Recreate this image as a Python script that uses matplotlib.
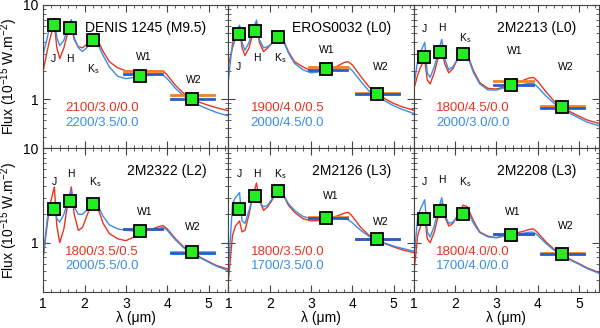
import matplotlib
matplotlib.use('Agg')
import matplotlib.pyplot as plt
from matplotlib.ticker import MultipleLocator, LogLocator, FixedLocator, NullFormatter

plt.rcParams['font.family'] = ['Liberation Sans', 'DejaVu Sans']
plt.rcParams['mathtext.fontset'] = 'custom'
plt.rcParams['mathtext.rm'] = 'Liberation Sans'
plt.rcParams['mathtext.it'] = 'Liberation Sans'

# wavelength grid of the model spectra (micron)
wave = [1.0, 1.1, 1.17, 1.27, 1.33, 1.4, 1.5, 1.58, 1.68, 1.75, 1.85, 1.95, 2.05, 2.2, 2.3, 2.45,
        2.6, 2.8, 3.0, 3.2, 3.4, 3.6, 3.8, 3.9, 4.0, 4.2, 4.4, 4.6, 4.8, 5.0, 5.2, 5.5]

names = ['DENIS 1245 (M9.5)', 'EROS0032 (L0)', '2M2213 (L0)',
         '2M2322 (L2)', '2M2126 (L3)', '2M2208 (L3)']
red_models = ['2100/3.0/0.0', '1900/4.0/0.5', '1800/4.5/0.0',
              '1800/3.5/0.5', '1800/3.5/0.0', '1800/4.0/0.0']
blue_models = ['2200/3.5/0.0', '2000/4.5/0.0', '2000/3.0/0.0',
               '2000/5.5/0.0', '1700/3.5/0.0', '1700/4.0/0.0']

red_flux = [
    [2.0, 3.3, 4.5, 6.3, 3.5, 2.7, 3.5, 4.8, 6.0, 4.3, 3.6, 3.5, 3.8, 4.6, 4.4, 3.2,
     2.5, 2.15, 2.0, 2.0, 2.0, 2.0, 2.0, 2.0, 1.8, 1.4, 1.15, 1.0, 0.92, 0.86, 0.81, 0.75],
    [2.3, 3.5, 4.5, 5.9, 3.5, 2.9, 3.5, 4.8, 6.5, 4.0, 3.2, 3.5, 3.9, 5.0, 4.6, 3.2,
     2.5, 2.2, 2.0, 2.0, 2.1, 2.2, 2.45, 2.5, 2.3, 1.75, 1.35, 1.15, 1.0, 0.9, 0.83, 0.76],
    [1.25, 1.8, 2.2, 2.6, 1.6, 1.45, 1.9, 2.6, 3.6, 2.4, 1.9, 2.1, 2.6, 3.3, 3.0, 2.0,
     1.5, 1.3, 1.28, 1.35, 1.45, 1.55, 1.68, 1.7, 1.55, 1.2, 0.95, 0.83, 0.73, 0.66, 0.6, 0.55],
    [0.7, 1.6, 2.6, 3.9, 1.5, 1.0, 1.4, 2.4, 3.9, 2.0, 1.35, 1.45, 1.9, 2.8, 2.5, 1.6,
     1.25, 1.1, 1.05, 1.15, 1.3, 1.38, 1.48, 1.52, 1.4, 1.1, 0.9, 0.8, 0.7, 0.63, 0.57, 0.52],
    [0.4, 1.2, 1.5, 1.7, 1.3, 1.35, 2.0, 3.0, 4.3, 2.8, 2.2, 2.4, 2.8, 3.7, 3.4, 2.5,
     2.1, 1.8, 1.7, 1.72, 1.82, 1.9, 2.05, 2.1, 1.9, 1.45, 1.2, 1.07, 0.97, 0.9, 0.84, 0.78],
    [0.45, 1.2, 1.5, 1.9, 1.1, 1.0, 1.3, 1.8, 2.6, 1.9, 1.5, 1.6, 1.9, 2.5, 2.4, 1.7,
     1.3, 1.17, 1.13, 1.18, 1.25, 1.3, 1.38, 1.4, 1.28, 1.02, 0.85, 0.75, 0.66, 0.6, 0.54, 0.48],
]
blue_flux = [
    [3.0, 4.5, 6.5, 7.2, 4.5, 3.7, 4.2, 5.5, 7.0, 4.5, 3.5, 3.2, 3.5, 4.3, 4.0, 2.9,
     2.2, 1.75, 1.65, 1.7, 1.75, 1.8, 1.85, 1.8, 1.65, 1.3, 1.08, 0.95, 0.85, 0.78, 0.72, 0.66],
    [1.6, 4.0, 5.0, 6.1, 4.0, 3.3, 4.0, 5.3, 6.9, 4.3, 3.5, 3.6, 3.9, 4.9, 4.5, 3.1,
     2.4, 2.05, 1.9, 1.95, 2.05, 2.1, 2.2, 2.2, 2.0, 1.55, 1.22, 1.08, 0.95, 0.85, 0.78, 0.7],
    [1.3, 2.6, 3.2, 4.0, 1.9, 1.7, 2.2, 3.0, 4.3, 2.7, 2.05, 2.2, 2.6, 3.2, 2.9, 1.9,
     1.45, 1.25, 1.25, 1.32, 1.38, 1.42, 1.47, 1.47, 1.35, 1.08, 0.9, 0.8, 0.7, 0.63, 0.57, 0.52],
    [0.72, 1.8, 2.2, 2.6, 1.8, 1.65, 2.0, 2.6, 3.6, 2.4, 2.0, 2.0, 2.2, 2.8, 2.6, 1.9,
     1.55, 1.4, 1.35, 1.33, 1.35, 1.38, 1.42, 1.45, 1.35, 1.07, 0.88, 0.78, 0.69, 0.62, 0.56, 0.5],
    [0.5, 2.6, 3.0, 3.4, 1.7, 1.6, 2.2, 2.9, 3.6, 2.7, 2.4, 2.5, 2.9, 3.7, 3.4, 2.6,
     2.2, 1.9, 1.8, 1.8, 1.82, 1.8, 1.78, 1.75, 1.62, 1.35, 1.17, 1.06, 0.98, 0.92, 0.87, 0.81],
    [0.6, 1.9, 2.3, 2.85, 1.3, 1.15, 1.5, 2.1, 3.0, 2.0, 1.6, 1.65, 1.85, 2.3, 2.2, 1.6,
     1.28, 1.15, 1.13, 1.18, 1.22, 1.25, 1.29, 1.29, 1.2, 0.98, 0.83, 0.74, 0.65, 0.59, 0.53, 0.47],
]

# observed photometry J, H, Ks, W1, W2
band_wave = [1.25, 1.65, 2.2, 3.35, 4.6]
phot = [
    [6.1, 5.7, 4.25, 1.78, 1.0],
    [4.9, 5.3, 4.6, 2.07, 1.13],
    [2.8, 3.2, 3.0, 1.43, 0.83],
    [2.3, 2.8, 2.6, 1.34, 0.79],
    [2.28, 3.16, 3.5, 1.83, 1.09],
    [1.8, 2.19, 2.0, 1.22, 0.76],
]
# synthetic WISE photometry of the two models (W1, W2)
wise_lo = [2.95, 4.08]
wise_hi = [3.88, 5.12]
red_wise = [[1.99, 1.10], [2.17, 1.15], [1.54, 0.85], [1.40, 0.80], [1.85, 1.10], [1.24, 0.77]]
blue_wise = [[1.83, 1.0], [2.05, 1.13], [1.40, 0.80], [1.39, 0.77], [1.83, 1.09], [1.23, 0.76]]

band_names = ['J', 'H', r'K$_\mathregular{s}$', 'W1', 'W2']
# label positions (x, y) for the band names in each panel
band_lbl = [
    [(1.25, 2.7), (1.65, 2.7), (2.2, 2.1), (3.43, 2.8), (4.64, 1.6)],
    [(1.25, 2.2), (1.7, 2.75), (2.25, 2.7), (3.39, 3.3), (4.68, 2.2)],
    [(1.27, 5.5), (1.68, 5.65), (2.25, 4.4), (3.45, 3.27), (4.68, 2.2)],
    [(1.27, 4.4), (1.68, 5.3), (2.26, 4.4), (3.45, 2.1), (4.62, 1.46)],
    [(1.27, 5.4), (1.7, 5.4), (2.25, 5.4), (3.47, 3.16), (4.68, 1.64)],
    [(1.27, 4.4), (1.68, 4.6), (2.25, 4.4), (3.4, 2.1), (4.68, 1.5)],
]

red = '#e8351e'
blue = '#3b8de6'
orange = '#f5821f'
dblue = '#2a5ccc'

fig, axes = plt.subplots(2, 3, figsize=(6, 3.28), dpi=100, sharex=True)
fig.subplots_adjust(left=0.072, right=0.998, top=0.985, bottom=0.11, wspace=0, hspace=0)

for i, ax in enumerate(axes.flat):
    ax.plot(wave, red_flux[i], color=red, lw=1.0)
    ax.plot(wave, blue_flux[i], color=blue, lw=1.0)
    for k in range(2):
        ax.plot([wise_lo[k], wise_hi[k]], [red_wise[i][k]] * 2, color=orange, lw=2)
        ax.plot([wise_lo[k], wise_hi[k]], [blue_wise[i][k]] * 2, color=dblue, lw=2)
    ax.plot(band_wave, phot[i], 's', ms=8.5, mfc='#22ee22', mec='black', mew=1.3, zorder=5)
    for name, (bx, by) in zip(band_names, band_lbl[i]):
        ax.text(bx, by, name, fontsize=7.5, ha='center', va='center')
    ax.text(0.88, 0.84, names[i], transform=ax.transAxes, fontsize=10, ha='right', va='center')
    ax.text(0.12, 0.28, red_models[i], transform=ax.transAxes, fontsize=9.5, color=red, va='center')
    ax.text(0.12, 0.18, blue_models[i], transform=ax.transAxes, fontsize=9.5, color=blue, va='center')

    ax.set_yscale('log')
    ax.set_xlim(1, 5.48)
    ax.set_ylim(0.3, 10)
    ax.xaxis.set_major_locator(MultipleLocator(1))
    ax.xaxis.set_minor_locator(MultipleLocator(0.2))
    ax.yaxis.set_major_locator(FixedLocator([1, 10]))
    ax.yaxis.set_minor_locator(LogLocator(base=10, subs=range(2, 10)))
    ax.yaxis.set_minor_formatter(NullFormatter())
    ax.tick_params(which='both', direction='in', top=True, right=True, labelsize=10, color='#444444')
    ax.tick_params(which='major', length=5)
    ax.tick_params(which='minor', length=2.5)
    for s in ax.spines.values():
        s.set_color('#444444')
        s.set_linewidth(0.8)
    if i % 3 == 0:
        ax.set_yticklabels(['1', '10'])
        ax.set_ylabel(r'Flux (10$^\mathregular{-15}$ W.m$^\mathregular{-2}$)', fontsize=10, labelpad=2)
    else:
        ax.set_yticklabels([])
    if i >= 3:
        ax.set_xlabel('λ (μm)', fontsize=10, labelpad=0)
        ax.set_xticks([1, 2, 3, 4, 5])
        ax.set_xticklabels(['1', '2', '3', '4', '5'])

fig.savefig('out.png', dpi=100)
